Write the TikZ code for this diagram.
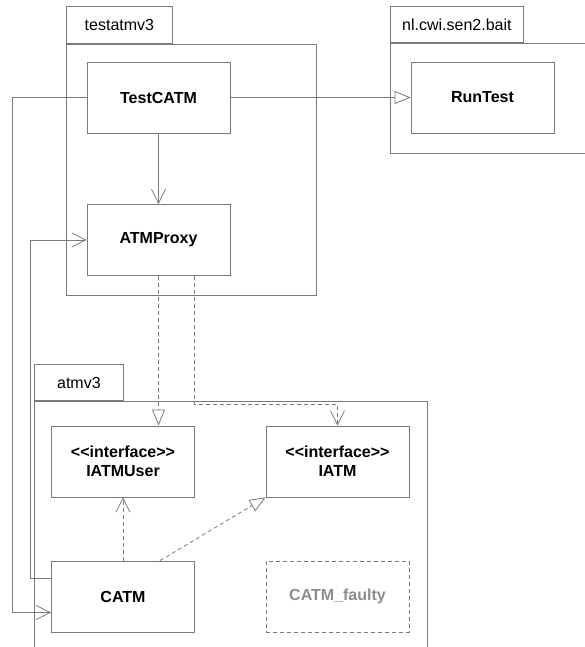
\documentclass[tikz,border=0pt]{standalone}
\usepackage{fontspec}
\usepackage{xcolor}
\usepackage{tikz}
\usetikzlibrary{arrows.meta}

\newfontfamily\umlfont{Liberation Sans}
\definecolor{linegray}{HTML}{7A7A7A}
\definecolor{fadedgray}{HTML}{8C8C8C}

\begin{document}
\begin{tikzpicture}[
    x=1pt, y=-1pt,
    cls/.style={
        rectangle,
        draw=linegray,
        line width=0.8pt,
        minimum width=143pt,
        minimum height=71pt,
        inner sep=0pt,
        align=center,
        font=\umlfont\bfseries\fontsize{16}{19}\selectfont
    },
    pkg/.style={
        rectangle,
        draw=linegray,
        line width=0.8pt,
        inner sep=0pt,
        anchor=north west
    },
    pkgtab/.style={
        pkg,
        anchor=south west,
        minimum height=37pt,
        font=\umlfont\fontsize{16}{19}\selectfont
    },
    assoc/.style={
        -{Straight Barb[length=14pt, width=14pt, line width=0.8pt]},
        draw=linegray,
        line width=0.8pt
    },
    generalize/.style={
        -{Triangle[open, length=16pt, width=13pt, line width=0.8pt, fill=white]},
        draw=linegray,
        line width=0.8pt
    },
    depend/.style={
        dash pattern=on 4pt off 3pt
    }
]
    \useasboundingbox (0,0) rectangle (585,647);
    \clip (0,0) rectangle (585,647);

    % packages
    \node[pkg, minimum width=250pt, minimum height=251pt] (testpkg) at (66,44) {};
    \node[pkgtab, minimum width=106pt] (testtab) at (testpkg.north west) {testatmv3};
    \node[pkg, minimum width=230pt, minimum height=110pt] (baitpkg) at (390,43) {};
    \node[pkgtab, minimum width=133pt, minimum height=36pt] (baittab) at (baitpkg.north west) {nl.cwi.sen2.bait};
    \node[pkg, minimum width=393pt, minimum height=280pt] (atmpkg) at (34,401) {};
    \node[pkgtab, minimum width=89pt, minimum height=36pt] (atmtab) at (atmpkg.north west) {atmv3};

    % classes
    \node[cls] (testcatm) at (158.5,97.5) {TestCATM};
    \node[cls] (atmproxy) at (158.5,240) {ATMProxy};
    \node[cls] (runtest) at (482.5,97.5) {RunTest};
    \node[cls] (iatmuser) at (123,461.5) {<<interface>>\\IATMUser};
    \node[cls] (iatm) at (337.5,461.5) {<<interface>>\\IATM};
    \node[cls] (catm) at (123,596.5) {CATM};
    \node[cls, depend, text=fadedgray] (faulty) at (337.5,596.5) {CATM\_faulty};

    % associations
    \draw[generalize] (testcatm.east) -- (runtest.west);
    \draw[assoc] (testcatm.south) -- (atmproxy.north);
    \draw[assoc] (testcatm.west) -| ([xshift=-39pt, yshift=-16pt]catm.west) -- ([yshift=-16pt]catm.west);
    \draw[assoc] ([yshift=18pt]catm.west) -| ([xshift=-56pt]atmproxy.west) -- (atmproxy.west);

    % dependencies
    \draw[generalize, depend] (atmproxy.south) -- (atmproxy.south |- iatmuser.north);
    \draw[assoc, depend] ([xshift=36pt]atmproxy.south) |- ([yshift=21pt]iatm.north) -- (iatm.north);
    \draw[assoc, depend] (catm.north) -- (iatmuser.south);
    \draw[generalize, depend] ([xshift=37pt]catm.north) -- (iatm.south west);
\end{tikzpicture}
\end{document}
